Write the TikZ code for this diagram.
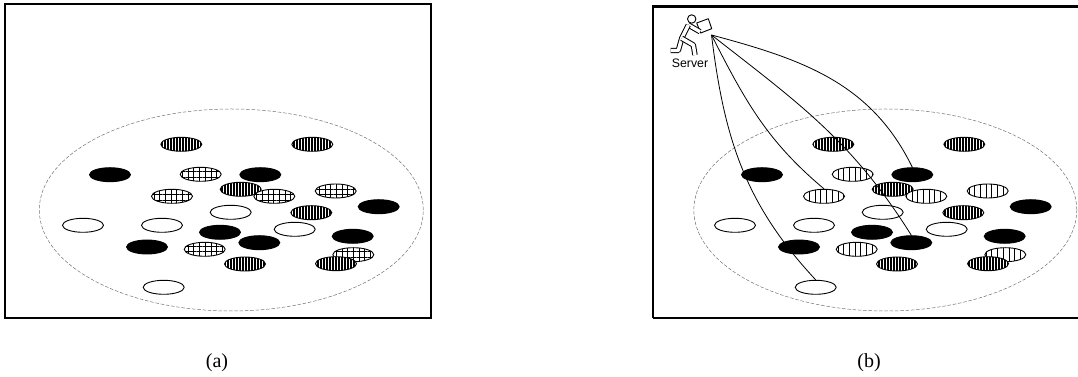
\documentclass[tikz,border=0pt]{standalone}
\usepackage{fontspec}
\setmainfont{Liberation Serif}
\newfontfamily\labelfont{Liberation Sans}
\usetikzlibrary{patterns.meta,shapes.geometric}
\tikzset{
  peer/.style={draw=black,line width=0.9pt,shape=ellipse,inner sep=0pt,
    minimum width=41pt,minimum height=14pt},
  blackpeer/.style={peer,fill=black},
  whitepeer/.style={peer,fill=white},
  densepeer/.style={peer,preaction={fill=white},pattern={Lines[angle=90,distance=3pt,line width=1.1pt]}},
  gridpeer/.style={peer,preaction={fill=white},pattern={Hatch[angle=0,distance=5.7pt,line width=0.7pt]}},
  stripepeer/.style={peer,preaction={fill=white},pattern={Lines[angle=90,distance=5.7pt,line width=0.7pt]}},
  frameline/.style={draw=black,line width=2.2pt},
  crowdline/.style={draw=black!55,line width=0.5pt,dash pattern=on 3.5pt off 1.8pt},
  serverlink/.style={draw=black,line width=0.8pt},
  bodyline/.style={draw=black,line width=1pt,double=white,double distance=3.4pt,line join=round},
  subcaption/.style={font=\fontsize{20}{22}\selectfont}
}
% #1 = prefix of the names, #2 = style of the hatched peers
\newcommand{\crowd}[2]{
  \foreach \n/\px/\py in {1/83/151.7,2/162/151.7,3/230.7/164.7,4/294.7/147.7,5/163.7/89.7}
    \node[whitepeer] (#1w\n) at (\px,\py) {};
  \foreach \n/\px/\py in {1/110/202.3,2/260.3/202.3,3/378.7/170.3,4/220/144.7,5/259.3/134.3,6/352.7/140.7,7/147/130}
    \node[blackpeer] (#1b\n) at (\px,\py) {};
  \foreach \n/\px/\py in {1/181.3/232.7,2/312.3/232.7,3/240.7/187.7,4/311.3/164.3}
    \node[densepeer] (#1d\n) at (\px,\py) {};
  \foreach \n/\px/\py in {1/200.7/202.7,2/172/180.7,3/274.3/180.7,4/335.7/186,5/204.7/127.7,6/353.3/122.3}
    \node[#2] (#1h\n) at (\px,\py) {};
  \foreach \n/\px/\py in {5/245/113,6/336/113.3}
    \node[densepeer] (#1d\n) at (\px,\py) {};
}
\begin{document}
\begin{tikzpicture}[x=1pt,y=1pt]
  \useasboundingbox (0,0) rectangle (1078,377);
  % panel a
  \draw[frameline] (5,59) rectangle (431,373);
  \draw[crowdline] (231.3,167) ellipse (192 and 101);
  \crowd{a}{gridpeer}
  \node[subcaption] (captiona) at (217,14.5) {(a)};
  % panel b
  \draw[frameline] (653,59) -- (653,370.5) -- (1080,370.5);
  \draw[frameline] (653,59) -- (1080,59);
  \draw[crowdline] (885.3,167) ellipse (191.5 and 101);
  \begin{scope}[xshift=652pt]
    \crowd{b}{stripepeer}
  \end{scope}
  \node[subcaption] (captionb) at (869,14.5) {(b)};
  % the server
  \draw[line width=0.9pt,fill=white,line join=round] (696.7,354) -- (708.3,358.3) -- (711.7,348.3) -- (700.7,344) -- cycle;
  \draw[bodyline] (688.3,352) -- (700,345.3);
  \draw[bodyline] (688.3,352) -- (681.7,338.7) -- (678.3,326.5) -- (670.7,326.5);
  \draw[bodyline] (681.7,338.7) -- (693.3,332) -- (695,322);
  \draw[line width=0.9pt,fill=white] (691.7,358) circle (4.2);
  \node[font=\labelfont\fontsize{12.3}{14}\selectfont,inner sep=0pt] (server) at (690,313.7) {Server};
  \coordinate (serverhand) at (711.5,342);
  \draw[serverlink] (serverhand) to[out=-83,in=133] (bw5.north);
  \draw[serverlink] (serverhand) to[out=-63,in=140] (bh2.north);
  \draw[serverlink] (serverhand) to[out=-38,in=122] (bb5.north);
  \draw[serverlink] (serverhand) to[out=-15,in=116] (bb2.north);
\end{tikzpicture}
\end{document}
